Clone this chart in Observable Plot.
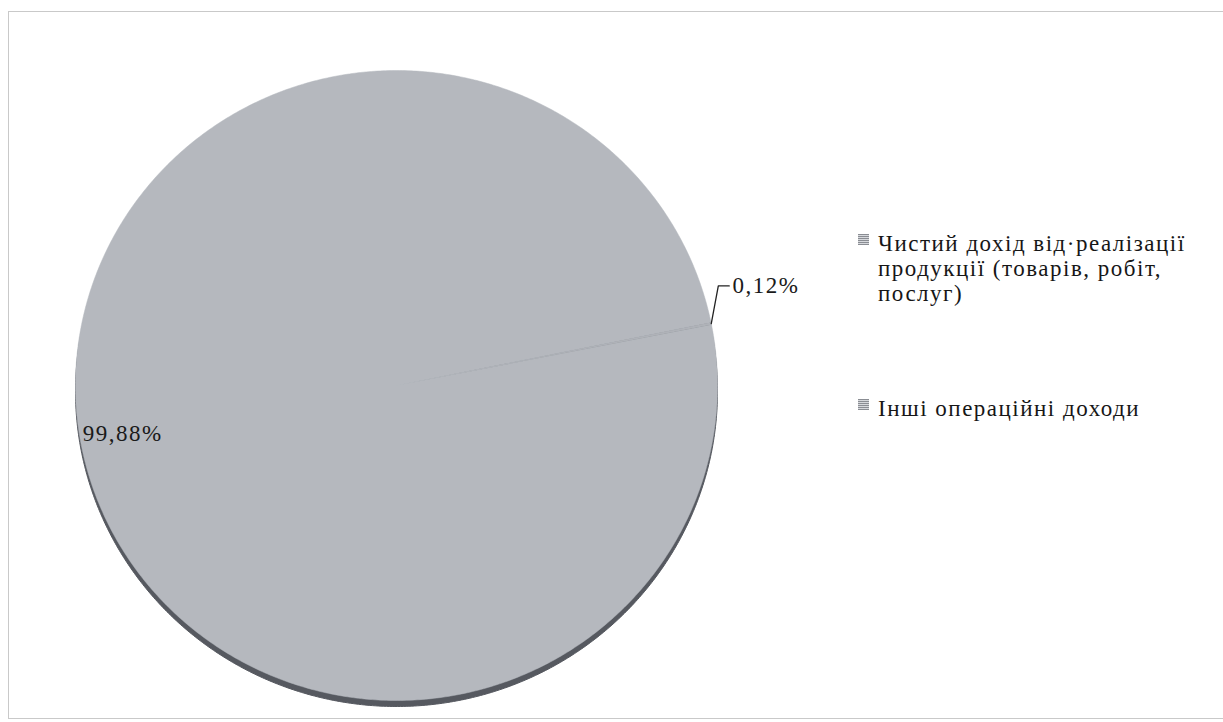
<!DOCTYPE html>
<html>
<head>
<meta charset="utf-8">
<script src="https://cdn.jsdelivr.net/npm/d3@7"></script>
<script src="https://cdn.jsdelivr.net/npm/@observablehq/plot@0.6"></script>
<style>
  html, body { margin: 0; padding: 0; background: #fff; }
  #wrap { position: relative; width: 1223px; height: 722px; overflow: hidden; font-family: "Liberation Serif", "Times New Roman", Times, "DejaVu Serif", serif; }
  #frame { position: absolute; left: 8px; top: 11px; width: 1230px; height: 708px; border: 1px solid #c9c9c9; border-right: none; box-sizing: border-box; }
  #chart { position: absolute; left: 0; top: 0; }
  #legend { position: absolute; left: 858px; top: 231px; color: #161616; font-size: 23px; line-height: 25px; letter-spacing: 1.5px; }
  .item { position: relative; padding-left: 20px; }
  .sw { position: absolute; left: 0; top: 3px; width: 11px; height: 11px;
        background: repeating-linear-gradient(0deg, #8a8d93 0 1px, #d6d8dc 1px 2px); }
  svg text { font-family: "Liberation Serif", "Times New Roman", Times, "DejaVu Serif", serif; letter-spacing: 1.5px; }
</style>
</head>
<body>
<div id="wrap">
  <div id="frame"></div>
  <div id="chart"></div>
  <div id="legend"></div>
</div>
<script>
// ---- data ----
const categories = [
  "Чистий дохід від·реалізації продукції (товарів, робіт, послуг)",
  "Інші операційні доходи"
];
const legendLines = [
  ["Чистий дохід від·реалізації", "продукції (товарів, робіт,", "послуг)"],
  ["Інші операційні доходи"]
];
const shares = [99.88, 0.12];
const valueLabels = ["99,88%", "0,12%"];

// ---- styling / layout constants ----
const W = 1223, H = 722;
const cx = 396, cy = 385, rx = 321, ry = 315;     // pixel placement of the pie
const startDeg = 78.9;                           // pie rotation
const faceColors = ["#b5b8be", "#afb2b8"];
const sideColor = "#565960";

// pie geometry in unit space (radius 1), computed from the data
const a0 = startDeg * Math.PI / 180;
const pie = d3.pie().sort(null).value(d => d).startAngle(a0).endAngle(a0 + 2 * Math.PI)(shares);
const polys = [];
pie.forEach((p, i) => {
  polys.push({k: i, x: 0, y: 0});
  const n = Math.max(2, Math.ceil((p.endAngle - p.startAngle) / (Math.PI / 360)));
  for (let j = 0; j <= n; j++) {
    const a = p.startAngle + (p.endAngle - p.startAngle) * j / n;
    polys.push({k: i, x: Math.sin(a), y: Math.cos(a)});
  }
});
const mid = pie.map(p => (p.startAngle + p.endAngle) / 2);

// big slice label inside
const inner = [{x: 0.87 * Math.sin(mid[0]), y: 0.87 * Math.cos(mid[0]), t: valueLabels[0]}];
// small slice label outside with leader
const ex = Math.sin(mid[1]), ey = Math.cos(mid[1]);
const leader = [
  {x: ex, y: ey},
  {x: ex + 0.022, y: ey + 0.12},
  {x: ex + 0.056, y: ey + 0.12}
];
const outer = [{x: ex + 0.066, y: ey + 0.12, t: valueLabels[1]}];

const chart = Plot.plot({
  width: W, height: H,
  margin: 0,
  style: {background: "transparent"},
  x: {domain: [-cx / rx, (W - cx) / rx], range: [0, W], axis: null},
  y: {domain: [-(H - cy) / ry, cy / ry], range: [H, 0], axis: null},
  marks: [
    // side (thickness) of the tilted pie
    Plot.line(polys, {x: "x", y: "y", z: "k", curve: "linear-closed", fill: sideColor, stroke: sideColor, strokeWidth: 1, dy: 6}),
    // top face
    Plot.line(polys, {x: "x", y: "y", z: "k", curve: "linear-closed",
      fill: d => faceColors[d.k], stroke: faceColors[0], strokeWidth: 0.5}),
    Plot.text(inner, {x: "x", y: "y", text: "t", fontSize: 23, fill: "#1a1a1a", dy: -6}),
    Plot.line(leader, {x: "x", y: "y", stroke: "#222", strokeWidth: 1.3}),
    Plot.text(outer, {x: "x", y: "y", text: "t", textAnchor: "start", fontSize: 23, fill: "#1a1a1a"})
  ]
});
document.getElementById("chart").appendChild(chart);

// legend
const lg = document.getElementById("legend");
categories.forEach((c, i) => {
  const div = document.createElement("div");
  div.className = "item";
  div.title = c;
  if (i > 0) div.style.marginTop = "90px";
  const sw = document.createElement("span");
  sw.className = "sw";
  div.appendChild(sw);
  legendLines[i].forEach(line => {
    const l = document.createElement("div");
    l.textContent = line;
    div.appendChild(l);
  });
  lg.appendChild(div);
});
</script>
</body>
</html>
